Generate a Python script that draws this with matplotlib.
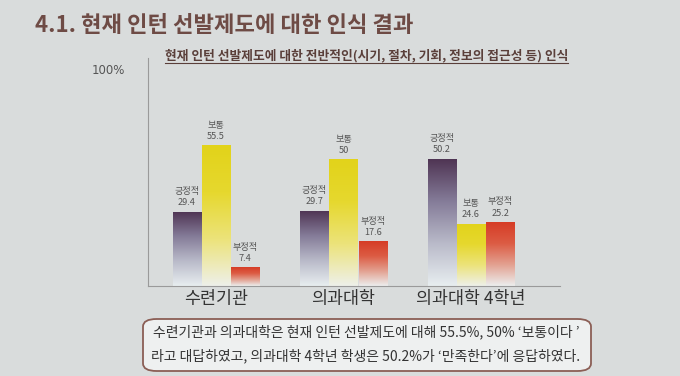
import matplotlib
matplotlib.use("Agg")
import matplotlib.pyplot as plt
import numpy as np
from matplotlib.colors import LinearSegmentedColormap
from matplotlib.patches import FancyBboxPatch
from matplotlib.lines import Line2D

plt.rcParams["font.family"] = ["Noto Sans CJK KR", "DejaVu Sans"]

groups = ["수련기관", "의과대학", "의과대학 4학년"]
series_names = ["긍정적", "보통", "부정적"]
positive = [29.4, 29.7, 50.2]
neutral = [55.5, 50.0, 24.6]
negative = [7.4, 17.6, 25.2]

title = "4.1. 현재 인턴 선발제도에 대한 인식 결과"
subtitle = "현재 인턴 선발제도에 대한 전반적인(시기, 절차, 기회, 정보의 접근성 등) 인식"
note_lines = [
    "수련기관과 의과대학은 현재 인턴 선발제도에 대해 55.5%, 50% ‘보통이다 ’",
    "라고 대답하였고, 의과대학 4학년 학생은 50.2%가 ‘만족한다’에 응답하였다.",
]

gradients = {
    "긍정적": ["#e8eef0", "#b9bac9", "#847b98", "#4e3352"],
    "보통": ["#eef0ea", "#ece37a", "#e6d82e", "#e2d31a"],
    "부정적": ["#eceeee", "#e3a191", "#dc5c44", "#d63c26"],
}

bg = "#d9dcdc"
fig = plt.figure(figsize=(6.8, 3.76), dpi=100, facecolor=bg)

fig.text(35 / 680, 1 - 25 / 376, title, fontsize=16, fontweight="bold",
         color="#6e4b45", va="center", ha="left")
sub = fig.text(165 / 680, 1 - 55 / 376, subtitle, fontsize=9.2, fontweight="bold",
               color="#5a3f3a", va="center", ha="left")

ax = fig.add_axes([148 / 680, 1 - 286 / 376, 412 / 680, 228 / 376])
ax.set_facecolor("none")

x = np.arange(len(groups))
width = 0.22
offsets = [-0.23, 0.0, 0.23]
all_values = [positive, neutral, negative]

for name, values, off in zip(series_names, all_values, offsets):
    cmap = LinearSegmentedColormap.from_list(name, gradients[name])
    bars = ax.bar(x + off, values, width, facecolor="none", edgecolor="none")
    for bar, val in zip(bars, values):
        bx, bw, bh = bar.get_x(), bar.get_width(), bar.get_height()
        grad = np.linspace(0, 1, 256).reshape(-1, 1)
        im = ax.imshow(grad, cmap=cmap, origin="lower", aspect="auto",
                       extent=[bx, bx + bw, 0, bh], zorder=2)
        im.set_clip_path(bar)
        ax.text(bx + bw / 2, bh + 1.8, f"{name}\n{val:g}", ha="center", va="bottom",
                fontsize=6.6, color="#555555", linespacing=1.3)

ax.set_xlim(-0.533, 2.698)
ax.set_ylim(0, 90)
for side in ["top", "right"]:
    ax.spines[side].set_visible(False)
ax.spines["left"].set_color("#9a9a9a")
ax.spines["bottom"].set_color("#9a9a9a")
ax.spines["left"].set_linewidth(0.8)
ax.spines["bottom"].set_linewidth(0.8)
ax.set_yticks([])
ax.set_xticks(x)
ax.set_xticklabels(groups, fontsize=12.5, color="#333333")
ax.tick_params(axis="x", length=0, pad=3)
ax.text(-0.055, 0.975, "100%", transform=ax.transAxes, ha="right", va="top",
        fontsize=8.5, color="#555555", family="DejaVu Sans")

box = FancyBboxPatch((143 / 680, 1 - 371 / 376), 448 / 680, 52 / 376,
                     boxstyle="round,pad=0,rounding_size=0.02",
                     transform=fig.transFigure, facecolor="#eef0f0",
                     edgecolor="#8b5e55", linewidth=1.3)
fig.patches.append(box)
fig.text(366 / 680, 1 - 332 / 376, note_lines[0], fontsize=10, color="#333333",
         ha="center", va="center")
fig.text(366 / 680, 1 - 356 / 376, note_lines[1], fontsize=10, color="#333333",
         ha="center", va="center")

fig.canvas.draw()
bb = sub.get_window_extent().transformed(fig.transFigure.inverted())
fig.add_artist(Line2D([bb.x0, bb.x1], [bb.y0 - 0.004, bb.y0 - 0.004],
                      transform=fig.transFigure, color="#5a3f3a", linewidth=0.8))

fig.savefig("out.png", dpi=100, facecolor=bg)
